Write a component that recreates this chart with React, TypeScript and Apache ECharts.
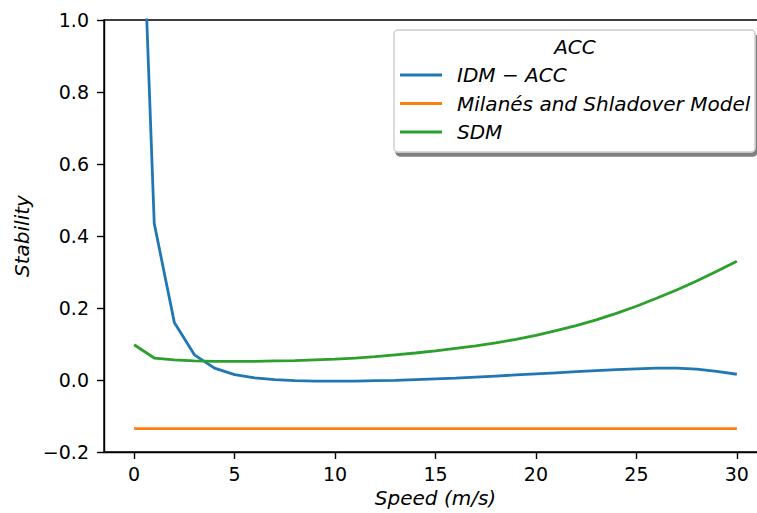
import React, { useEffect, useRef } from "react";
import * as echarts from "echarts";

const speeds = [0, 1, 2, 3, 4, 5, 6, 7, 8, 9, 10, 11, 12, 13, 14, 15, 16, 17, 18, 19, 20, 21, 22, 23, 24, 25, 26, 27, 28, 29, 30];
const idmAcc = [1.96, 0.435, 0.16, 0.07, 0.033, 0.015, 0.006, 0.001, -0.002, -0.003, -0.003, -0.003, -0.002, -0.001, 0.001, 0.003, 0.005, 0.008, 0.011, 0.014, 0.017, 0.02, 0.023, 0.026, 0.029, 0.031, 0.033, 0.033, 0.03, 0.024, 0.016];
const milanes = [-0.135, -0.135, -0.135, -0.135, -0.135, -0.135, -0.135, -0.135, -0.135, -0.135, -0.135, -0.135, -0.135, -0.135, -0.135, -0.135, -0.135, -0.135, -0.135, -0.135, -0.135, -0.135, -0.135, -0.135, -0.135, -0.135, -0.135, -0.135, -0.135, -0.135, -0.135];
const sdm = [0.098, 0.061, 0.056, 0.053, 0.052, 0.052, 0.052, 0.053, 0.054, 0.056, 0.058, 0.061, 0.065, 0.07, 0.075, 0.081, 0.088, 0.095, 0.103, 0.113, 0.124, 0.137, 0.151, 0.167, 0.185, 0.205, 0.227, 0.25, 0.275, 0.302, 0.33];
const xTicks = [0, 5, 10, 15, 20, 25, 30];
const seriesNames = ["IDM \u2212 ACC", "Milan\u00e9s and Shladover Model", "SDM"];
const legendTitle = "ACC";
const xAxisTitle = "Speed (m/s)";
const yAxisTitle = "Stability";

const FONT = "DejaVu Sans";

export default function App() {
  const ref = useRef<HTMLDivElement>(null);
  useEffect(() => {
    if (!ref.current) return;
    const chart = echarts.init(ref.current, undefined, { renderer: "svg" });
    const pairs = (ys: number[]) => speeds.map((x, i) => [x, ys[i]]);
    const colors = ["#1f77b4", "#ff7f0e", "#2ca02c"];
    const allData = [idmAcc, milanes, sdm];
    chart.setOption({
      animation: false,
      backgroundColor: "#ffffff",
      grid: {
        left: 104,
        top: 20,
        bottom: 61,
        width: 663,
        outerBoundsMode: "none",
        containLabel: false,
        show: true,
        borderColor: "#000",
        borderWidth: 1.4,
        backgroundColor: "transparent",
      },
      xAxis: {
        type: "value",
        min: -1.5,
        max: 31.5,
        name: xAxisTitle,
        nameLocation: "middle",
        nameGap: 36,
        nameTextStyle: { fontFamily: FONT, fontStyle: "italic", fontSize: 20, color: "#000" },
        axisLine: { show: true, onZero: false, lineStyle: { color: "#000", width: 1.4 } },
        axisTick: { show: true, length: 7, customValues: xTicks, lineStyle: { color: "#000", width: 1.4 } },
        axisLabel: {
          customValues: xTicks,
          margin: 12,
          fontFamily: FONT,
          fontSize: 19,
          color: "#000",
        },
        splitLine: { show: false },
      },
      yAxis: {
        type: "value",
        min: -0.2,
        max: 1.0,
        interval: 0.2,
        name: yAxisTitle,
        nameLocation: "middle",
        nameGap: 70,
        nameTextStyle: { fontFamily: FONT, fontStyle: "italic", fontSize: 20, color: "#000" },
        axisLine: { show: true, onZero: false, lineStyle: { color: "#000", width: 1.4 } },
        axisTick: { show: true, length: 7, lineStyle: { color: "#000", width: 1.4 } },
        axisLabel: {
          margin: 15,
          fontFamily: FONT,
          fontSize: 19,
          color: "#000",
          formatter: (v: number) => (v < -1e-9 ? "\u2212" + Math.abs(v).toFixed(1) : Math.abs(v).toFixed(1)),
        },
        splitLine: { show: false },
      },
      legend: {
        orient: "vertical",
        left: 400,
        top: 64,
        padding: 0,
        itemWidth: 42,
        itemHeight: 3,
        itemGap: 6.5,
        icon: "rect",
        selectedMode: false,
        z: 10,
        data: seriesNames,
        textStyle: {
          fontFamily: FONT,
          fontStyle: "italic",
          fontSize: 20,
          lineHeight: 22,
          color: "#000",
          padding: [0, 0, 0, 10],
        },
      },
      graphic: [
        {
          type: "rect",
          z: 5,
          shape: { x: 394, y: 30, width: 361, height: 122, r: 4 },
          style: {
            fill: "#ffffff",
            stroke: "#cccccc",
            lineWidth: 1.4,
            shadowColor: "rgba(0,0,0,0.5)",
            shadowOffsetX: 2,
            shadowOffsetY: 4,
            shadowBlur: 1,
          },
        },
        {
          type: "text",
          z: 11,
          x: 575,
          y: 47,
          style: {
            text: legendTitle,
            fontFamily: FONT,
            fontStyle: "italic",
            fontSize: 20,
            fill: "#000",
            textAlign: "center",
            textVerticalAlign: "middle",
          },
        },
      ],
      series: seriesNames.map((name, i) => ({
        name,
        type: "line",
        data: pairs(allData[i]),
        symbol: "none",
        showSymbol: false,
        clip: true,
        color: colors[i],
        lineStyle: { color: colors[i], width: 2.8 },
        z: 2,
      })),
    });
    return () => chart.dispose();
  }, []);
  return (
    <div
      ref={ref}
      style={{ position: "fixed", left: 0, top: 0, width: 757, height: 513, background: "#fff" }}
    />
  );
}
